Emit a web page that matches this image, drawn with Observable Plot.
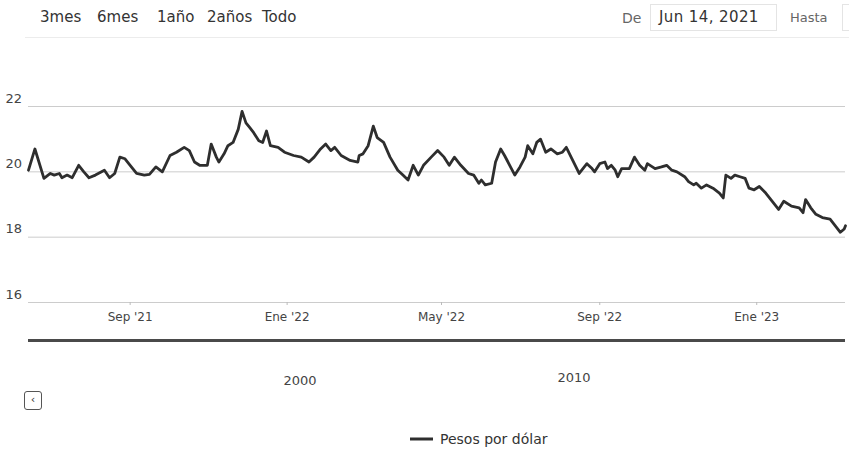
<!DOCTYPE html>
<html><head><meta charset="utf-8">
<script src="https://cdn.jsdelivr.net/npm/d3@7"></script>
<script src="https://cdn.jsdelivr.net/npm/@observablehq/plot@0.6"></script>
<style>
body{margin:0;background:#fff;font-family:"DejaVu Sans",sans-serif;}
#wrap{position:relative;width:849px;height:451px;overflow:hidden;background:#fff;}
.abs{position:absolute;white-space:nowrap;}
</style></head><body><div id="wrap"></div>
<script>
const dates = ["2021-06-14","2021-06-19","2021-06-26","2021-07-01","2021-07-04","2021-07-08","2021-07-10","2021-07-14","2021-07-18","2021-07-23","2021-07-27","2021-07-31","2021-08-05","2021-08-12","2021-08-16","2021-08-20","2021-08-24","2021-08-28","2021-09-01","2021-09-06","2021-09-12","2021-09-16","2021-09-21","2021-09-26","2021-10-02","2021-10-07","2021-10-13","2021-10-17","2021-10-21","2021-10-25","2021-10-31","2021-11-03","2021-11-07","2021-11-09","2021-11-13","2021-11-16","2021-11-20","2021-11-24","2021-11-27","2021-11-30","2021-12-03","2021-12-06","2021-12-10","2021-12-13","2021-12-16","2021-12-19","2021-12-25","2021-12-30","2022-01-06","2022-01-12","2022-01-18","2022-01-22","2022-01-27","2022-01-31","2022-02-04","2022-02-07","2022-02-12","2022-02-19","2022-02-25","2022-02-26","2022-03-01","2022-03-05","2022-03-09","2022-03-12","2022-03-17","2022-03-22","2022-03-28","2022-04-01","2022-04-05","2022-04-09","2022-04-13","2022-04-17","2022-04-23","2022-04-28","2022-05-03","2022-05-07","2022-05-11","2022-05-16","2022-05-22","2022-05-26","2022-05-30","2022-06-01","2022-06-04","2022-06-09","2022-06-12","2022-06-16","2022-06-19","2022-06-23","2022-06-27","2022-07-01","2022-07-05","2022-07-07","2022-07-11","2022-07-14","2022-07-17","2022-07-21","2022-07-25","2022-07-30","2022-08-03","2022-08-06","2022-08-11","2022-08-16","2022-08-22","2022-08-26","2022-08-28","2022-09-01","2022-09-05","2022-09-07","2022-09-10","2022-09-13","2022-09-15","2022-09-18","2022-09-24","2022-09-28","2022-10-02","2022-10-06","2022-10-08","2022-10-14","2022-10-19","2022-10-23","2022-10-27","2022-10-31","2022-11-06","2022-11-09","2022-11-13","2022-11-15","2022-11-19","2022-11-23","2022-11-28","2022-12-03","2022-12-06","2022-12-08","2022-12-12","2022-12-15","2022-12-19","2022-12-23","2022-12-26","2022-12-30","2023-01-03","2023-01-08","2023-01-14","2023-01-18","2023-01-22","2023-01-28","2023-02-03","2023-02-06","2023-02-08","2023-02-12","2023-02-16","2023-02-21","2023-02-27","2023-03-04","2023-03-07","2023-03-10","2023-03-11"];
const values = [20.05,20.7,19.8,19.95,19.9,19.95,19.82,19.9,19.82,20.2,20.0,19.82,19.9,20.05,19.82,19.95,20.45,20.4,20.2,19.95,19.9,19.92,20.15,20.0,20.5,20.6,20.75,20.65,20.3,20.2,20.2,20.85,20.45,20.3,20.55,20.8,20.9,21.3,21.85,21.5,21.35,21.2,20.95,20.9,21.25,20.8,20.75,20.6,20.5,20.45,20.3,20.45,20.7,20.85,20.65,20.75,20.5,20.35,20.3,20.5,20.55,20.8,21.4,21.05,20.9,20.45,20.05,19.9,19.75,20.2,19.9,20.2,20.45,20.65,20.45,20.2,20.45,20.2,19.95,19.9,19.65,19.75,19.6,19.65,20.3,20.7,20.5,20.2,19.9,20.15,20.45,20.8,20.55,20.9,21.0,20.6,20.7,20.55,20.6,20.75,20.35,19.95,20.25,20.1,20.0,20.25,20.3,20.1,20.2,20.05,19.85,20.1,20.1,20.45,20.2,20.05,20.25,20.1,20.15,20.2,20.05,20.0,19.85,19.7,19.6,19.65,19.5,19.6,19.5,19.35,19.2,19.9,19.8,19.9,19.85,19.8,19.5,19.45,19.55,19.35,19.05,18.85,19.1,18.95,18.9,18.75,19.15,18.9,18.7,18.6,18.55,18.3,18.15,18.25,18.35];
const xDomain = ["2021-06-14","2023-03-11"];
const xTickDates = ["2021-09-01","2022-01-01","2022-05-01","2022-09-01","2023-01-01"];
const xTickLabels = ["Sep '21","Ene '22","May '22","Sep '22","Ene '23"];
const yTicks = [16,18,20,22];
const rangeButtons = ["3mes","6mes","1año","2años","Todo"];
const navLabels = ["2000","2010"];
const seriesName = "Pesos por dólar";
const fromLabel = "De";
const fromDate = "Jun 14, 2021";
const toLabel = "Hasta";

const wrap = document.getElementById("wrap");
function add(html){ wrap.insertAdjacentHTML("beforeend", html); }

// range selector
const btnX = [40,97,157,207,262];
rangeButtons.forEach((b,i)=> add(`<div class="abs" style="left:${btnX[i]}px;top:8px;font-size:15px;line-height:18px;color:#333;">${b}</div>`));
add(`<div class="abs" style="left:622px;top:9px;font-size:14px;line-height:18px;color:#666;">${fromLabel}</div>`);
add(`<div class="abs" style="left:650px;top:4px;width:127px;height:27px;border:1px solid #e4e4e4;box-sizing:border-box;"></div>`);
add(`<div class="abs" style="left:659px;top:8px;font-size:15px;line-height:18px;color:#333;letter-spacing:0.4px;">${fromDate}</div>`);
add(`<div class="abs" style="left:790px;top:9px;font-size:13px;line-height:18px;color:#666;">${toLabel}</div>`);
add(`<div class="abs" style="left:842px;top:4px;width:20px;height:27px;border:1px solid #e4e4e4;box-sizing:border-box;"></div>`);
add(`<div class="abs" style="left:25px;top:37px;width:824px;height:1px;background:#ececec;"></div>`);

// main chart
const data = dates.map((d,i)=>({date:new Date(d), value:values[i]}));
const tickDates = xTickDates.map(d=>new Date(d));
const labelMap = new Map(tickDates.map((d,i)=>[+d, xTickLabels[i]]));
const chart = Plot.plot({
  width: 849, height: 252,
  marginLeft: 28, marginRight: 4, marginTop: 26, marginBottom: 30,
  x: {type:"utc", domain: xDomain.map(d=>new Date(d))},
  y: {domain:[16,22]},
  style: {fontFamily:"DejaVu Sans", background:"transparent", overflow:"visible"},
  marks: [
    Plot.gridY(yTicks, {stroke:"#cccccc", strokeOpacity:1, strokeWidth:1}),
    Plot.axisY(yTicks, {tickSize:0, textAnchor:"start", dx:-14, dy:-8, fontSize:13, fill:"#444", tickFormat:d=>String(d), label:null}),
    Plot.axisX(tickDates, {tickSize:3, tickPadding:7, stroke:"#bbb", fontSize:12, fill:"#444", tickFormat:d=>labelMap.get(+d), label:null}),
    Plot.lineY(data, {x:"date", y:"value", stroke:"#2e2e2e", strokeWidth:2.8, strokeLinejoin:"round"})
  ]
});
chart.style.position = "absolute";
chart.style.left = "0px";
chart.style.top = "80px";
wrap.appendChild(chart);

// navigator
add(`<div class="abs" style="left:28px;top:339px;width:817px;height:3px;background:#4a4a4a;"></div>`);
const navX = [300,574], navY = [373,370];
navLabels.forEach((t,i)=> add(`<div class="abs" style="left:${navX[i]-30}px;width:60px;text-align:center;top:${navY[i]}px;font-size:13px;line-height:16px;color:#444;">${t}</div>`));
add(`<div class="abs" style="left:24px;top:391px;width:18px;height:19px;border:1.5px solid #555;border-radius:3px;box-sizing:border-box;font-size:11px;line-height:16px;text-align:center;color:#333;">‹</div>`);

// legend
add(`<svg class="abs" style="left:410px;top:433px;" width="24" height="12"><line x1="0" y1="6" x2="23" y2="6" stroke="#2e2e2e" stroke-width="3"/></svg>`);
add(`<div class="abs" style="left:440px;top:430px;font-size:14px;line-height:18px;color:#333;">${seriesName}</div>`);
</script></body></html>
